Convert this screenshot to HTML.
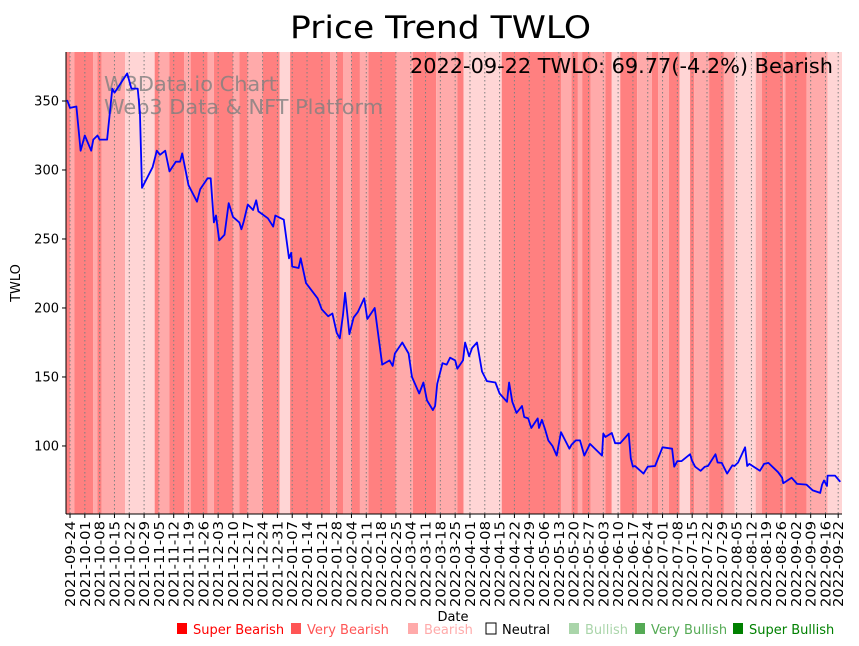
<!DOCTYPE html>
<html><head><meta charset="utf-8"><style>
body{margin:0;background:#fff;}
svg{display:block;font-family:"DejaVu Sans","Liberation Sans",sans-serif;}
</style></head><body>
<svg id="chart" width="859" height="646" viewBox="0 0 859 646">
<text x="290" y="38" font-size="31" textLength="301" lengthAdjust="spacingAndGlyphs">Price Trend TWLO</text>
<g id="bands"></g>
<g id="grid"></g>
<text x="104" y="91" font-size="20" fill="#808080" fill-opacity="0.8" textLength="173" lengthAdjust="spacingAndGlyphs">W3Data.io Chart</text>
<text x="104" y="114" font-size="20" fill="#808080" fill-opacity="0.8" textLength="279" lengthAdjust="spacingAndGlyphs">Web3 Data &amp; NFT Platform</text>
<g id="line"></g>
<text x="410" y="73" font-size="20" textLength="423" lengthAdjust="spacingAndGlyphs">2022-09-22 TWLO: 69.77(-4.2%) Bearish</text>
<g id="axes"></g>
<text transform="translate(20,283) rotate(-90)" font-size="13" text-anchor="middle">TWLO</text>
<text x="453" y="621" font-size="13" text-anchor="middle">Date</text>
<g id="legend"></g>
</svg>
<script>
// price series: day offset from 2021-09-24 and price
const days=[-1.4,0,3,5,7,10,11,13,14,17.5,20,21,27,29,32,33,34,39,41,42.5,45,47,50,52,53,56,60,61.5,65,66.5,68,69,70.5,73,75,77,80,81,82,84,86.5,88,89,93.5,96,97,101,103.5,104.5,105,108,109,111.5,117,119,122,124,126,127.5,129,130,132,134,136,139,140.5,144,147.5,151,152.5,153.5,157,160,161.6,165,167,168.7,171.5,172.5,173.5,176,178,179.6,182,183,185.7,186.7,188.6,190,192.3,194.7,197,201,203,206.5,207.5,209,211,213.6,214.6,216.5,218,221,221.6,223,224.5,226,228,230,232,234,236,237,239,241,243,245.7,251.4,252,253,256,257.6,260,264,265,266,267,271,273,276.5,280,284.5,285.5,287,289,293,294,295.4,298,300,301.5,305,306,308,310.5,313,314,315.7,319,320,321,326,328,330,334.6,336.5,337,341,343.6,348,351,354.5,355.4,356.3,357.7,358,361.5,364];
const prices=[350.7,345,346,314,325,314,322,325,322,322,359,356,370,359,359,342,287,302,314,311,314,299,306,306,312,289,277,286,294,294,262,267,249,253,276,266,262,257,262,275,271,278,270,265,259,267,264,236,240,230,229,236,218,207,199,194,196,182,178,195,211,181,193,197,207,192,200,159,162,158,167,175,167,150,138,146,133,126,129,145,160,159,164,162,156,162,175,165,171,175,154,147,146,138,132,146,132,124,129,121,120,113,120,113,119,112,104,100,93,110,104,98,101,104,104,93,101.5,93,109,106.5,109.4,102,102,109,91,85,85.5,80,85,85.5,99,98,85,89,89,94,89,85,82,85,85.5,94,88,87.7,80,86,85.5,88,99,85.5,87,82,87,87.7,81,77,73,77,72.5,72,67.8,66,72,75,71,78.5,78.5,74,77,69.8];
// sentiment bands: start/end day offsets and level (2=very bearish,1=bearish,0=light)
const bandStart=[-2,0,2,11,13,15,26,40,42,47,54,57,65,68,77,80,84,91,99,104,123,126,129,133,137,141,154,162,173,183,186,204,232,237,240,242,246,253,256,260,268,275,278,283,288,293,295,302,309,314,324,327,337,338,348,358];
const bandEnd=[0,2,11,13,15,26,40,42,47,54,57,65,68,77,80,84,91,99,104,123,126,129,133,137,141,154,162,173,183,186,204,232,237,240,242,246,253,256,260,268,275,278,283,288,293,295,302,309,314,324,327,337,338,348,358,365];
const bandLevel=[2,1,2,1,2,1,0,2,1,2,1,2,1,2,1,2,1,2,0,2,1,2,1,2,1,2,1,2,1,2,0,2,1,2,1,2,1,2,0,2,1,2,1,2,0,2,1,2,1,0,1,2,1,2,1,0];
const tickLabels=["2021-09-24","2021-10-01","2021-10-08","2021-10-15","2021-10-22","2021-10-29","2021-11-05","2021-11-12","2021-11-19","2021-11-26","2021-12-03","2021-12-10","2021-12-17","2021-12-24","2021-12-31","2022-01-07","2022-01-14","2022-01-21","2022-01-28","2022-02-04","2022-02-11","2022-02-18","2022-02-25","2022-03-04","2022-03-11","2022-03-18","2022-03-25","2022-04-01","2022-04-08","2022-04-15","2022-04-22","2022-04-29","2022-05-06","2022-05-13","2022-05-20","2022-05-27","2022-06-03","2022-06-10","2022-06-17","2022-06-24","2022-07-01","2022-07-08","2022-07-15","2022-07-22","2022-07-29","2022-08-05","2022-08-12","2022-08-19","2022-08-26","2022-09-02","2022-09-09","2022-09-16","2022-09-22"];
const tickDays=[0,7,14,21,28,35,42,49,56,63,70,77,84,91,98,105,112,119,126,133,140,147,154,161,168,175,182,189,196,203,210,217,224,231,238,245,252,259,266,273,280,287,294,301,308,315,322,329,336,343,350,357,363];
const yTicks=[100,150,200,250,300,350];
const legendLabels=["Super Bearish","Very Bearish","Bearish","Neutral","Bullish","Very Bullish","Super Bullish"];
const legendColors=["#ff0000","#ff5555","#ffaaaa","#ffffff","#aad5aa","#55aa55","#008000"];
const legendTextColors=["#ff0000","#ff5555","#ffaaaa","#000000","#aad5aa","#55aa55","#008000"];
const legendX=[176,290,407,485,568,634,732];

const NS="http://www.w3.org/2000/svg";
const L=66,R=842,T=52,B=514;
const D0=-1.9,D1=364.8,Y0=50.7,Y1=385.5;
const xs=d=>L+(d-D0)/(D1-D0)*(R-L);
const ys=v=>B-(v-Y0)/(Y1-Y0)*(B-T);
function mk(tag,attrs,parent){const e=document.createElementNS(NS,tag);for(const k in attrs)e.setAttribute(k,attrs[k]);parent.appendChild(e);return e;}
const bandColors=["#ffd5d5","#ffaaaa","#ff8080"];
const gB=document.getElementById('bands');
bandStart.forEach((s,i)=>{
  const x0=Math.max(L,xs(s)),x1=Math.min(R,xs(bandEnd[i]));
  const r=mk('rect',{x:x0,y:T,width:Math.max(0,x1-x0),height:B-T,fill:bandColors[bandLevel[i]]},gB);
  
  
});
const gG=document.getElementById('grid');
const gA=document.getElementById('axes');
tickDays.forEach((d,i)=>{
  const x=xs(d);
  const g=mk('line',{x1:x,x2:x,y1:T,y2:B,stroke:'#808080','stroke-width':1,'stroke-dasharray':'1.5,2.5'},gG);
  
  
  mk('line',{x1:x,x2:x,y1:B,y2:B+4,stroke:'#000'},gA);
  const t=mk('text',{transform:`translate(${x+5},${B+7}) rotate(-90)`,'font-size':13,'text-anchor':'end',textLength:86,lengthAdjust:'spacingAndGlyphs'},gA);
  t.textContent=tickLabels[i];
  
  
});
yTicks.forEach(v=>{
  const y=ys(v);
  mk('line',{x1:L-4,x2:L,y1:y,y2:y,stroke:'#000'},gA);
  const t=mk('text',{x:L-7,y:y+4.5,'font-size':13,'text-anchor':'end'},gA);
  t.textContent=v;
  
  
});
mk('line',{x1:L,x2:L,y1:T,y2:B,stroke:'#000','stroke-width':1},gA);
mk('line',{x1:L,x2:R,y1:B,y2:B,stroke:'#000','stroke-width':1},gA);
const pts=days.map((d,i)=>xs(d).toFixed(1)+','+ys(prices[i]).toFixed(1)).join(' ');
const pl=mk('polyline',{points:pts,fill:'none',stroke:'#0000ff','stroke-width':1.8,'stroke-linejoin':'round'},document.getElementById('line'));


const gL=document.getElementById('legend');
legendLabels.forEach((lab,i)=>{
  const x=legendX[i];
  const r=mk('rect',{x:x+1,y:623,width:10,height:11,fill:legendColors[i],stroke:i==3?'#000':'none','stroke-width':1},gL);
  
  
  const t=mk('text',{x:x+17,y:634,'font-size':13,fill:legendTextColors[i]},gL);
  t.textContent=lab;
  
  
});
</script>
</body></html>
